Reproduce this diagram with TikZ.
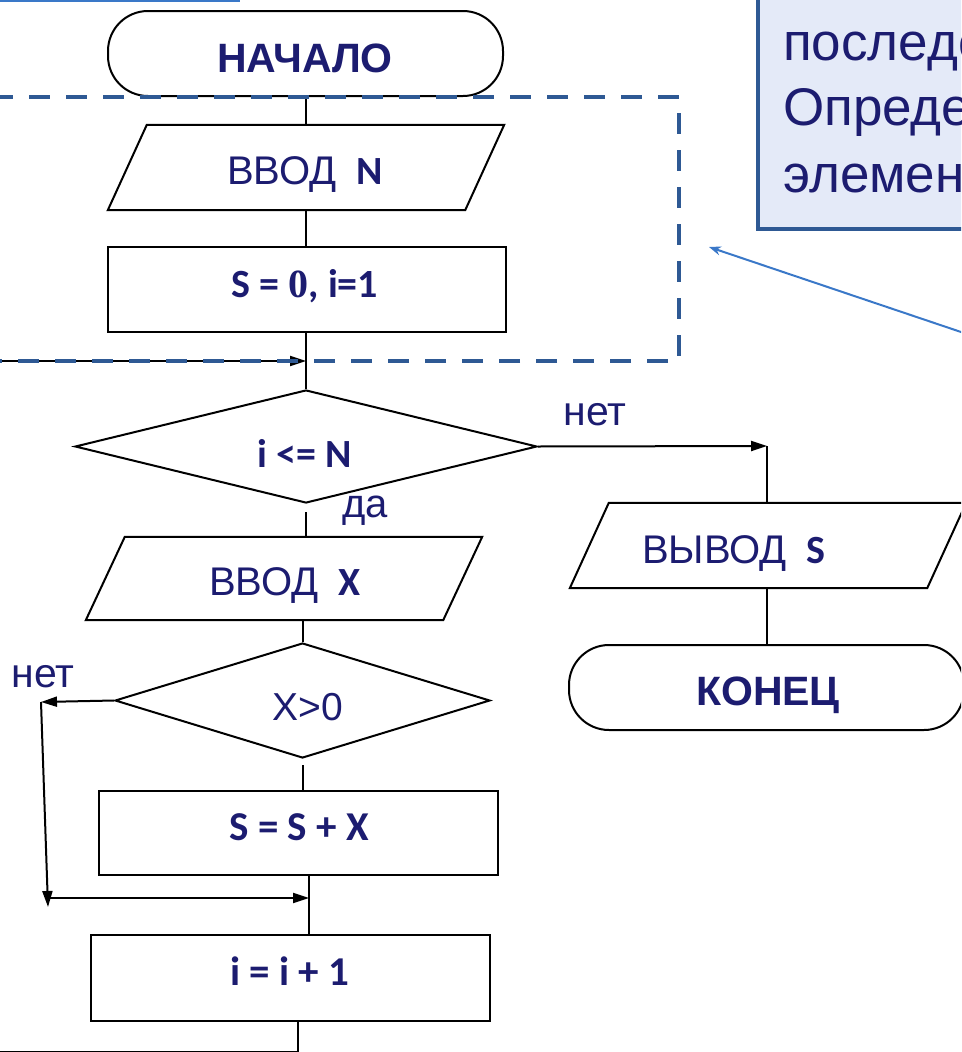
\documentclass[tikz,border=0pt]{standalone}
\usepackage{fontspec}
\setmainfont{Liberation Sans}
\newfontfamily\calfont{Carlito}
\newfontfamily\serfont{Liberation Serif}
\usetikzlibrary{shapes.geometric,arrows.meta,calc}

\definecolor{ink}{RGB}{28,28,112}
\definecolor{frameblue}{RGB}{46,89,148}
\definecolor{notefill}{RGB}{228,234,248}
\definecolor{pointer}{RGB}{58,120,200}

\tikzset{
  flow/.style={line width=2pt},
  arr/.style={flow, -{Triangle[length=16pt,width=10pt]}},
  proc/.style={draw, rectangle, line width=2pt, inner sep=0pt},
  term/.style={draw, rectangle, rounded corners=40pt, line width=2pt, inner sep=0pt},
  iobox/.style={rectangle, inner sep=0pt},
  decide/.style={draw, diamond, line width=2pt, inner sep=0pt},
  lbl/.style={inner sep=0pt, anchor=base, text=ink},
  notetext/.style={inner sep=0pt, anchor=base west, text=ink},
}

% slanted input/output block drawn over an invisible frame node
\newcommand\slantbox[1]{%
  \draw[flow, line join=miter] (#1.south west) -- ($(#1.north west)+(39,0)$)
    -- (#1.north east) -- ($(#1.south east)+(-39,0)$) -- cycle;}

\begin{document}
\begin{tikzpicture}[x=1pt, y=-1pt]
\useasboundingbox (0,0) rectangle (961,1052);
\clip (0,0) rectangle (961,1052);

% blocks
\node[term, minimum width=395pt, minimum height=85pt] (start) at (305.5,53.5) {};
\node[iobox, minimum width=396pt, minimum height=85pt] (inN) at (306,167.5) {};
\node[proc, minimum width=398pt, minimum height=85pt] (init) at (307,289.5) {};
\node[decide, minimum width=462pt, minimum height=113pt] (cond) at (306,446.5) {};
\node[iobox, minimum width=396pt, minimum height=83pt] (inX) at (284,578.5) {};
\node[decide, minimum width=375pt, minimum height=115pt] (pos) at (302.5,700.5) {};
\node[proc, minimum width=399pt, minimum height=84pt] (acc) at (298.5,833) {};
\node[proc, minimum width=399pt, minimum height=86pt] (inc) at (290.5,978) {};
\node[iobox, minimum width=396pt, minimum height=85pt] (outS) at (768,545.5) {};
\node[term, minimum width=395pt, minimum height=85pt] (stop) at (766.5,687.5) {};
\slantbox{inN}
\slantbox{inX}
\slantbox{outS}

% block texts
\node[lbl] (tStart) at (305,72) {\fontsize{41}{41}\selectfont\bfseries НАЧАЛО};
\node[lbl] (tInN) at (305,184) {\fontsize{40}{40}\selectfont ВВОД\hspace{20pt}{\calfont\bfseries N}};
\node[lbl] (tInit) at (305,297) {\calfont\bfseries\fontsize{40}{40}\selectfont S = {\serfont\bfseries 0}, i=1};
\node[lbl] (tCond) at (305,467) {\calfont\bfseries\fontsize{40}{40}\selectfont i <= N};
\node[lbl] (tYes) at (365,517) {\fontsize{40}{40}\selectfont да};
\node[lbl] (tInX) at (285,595) {\fontsize{40}{40}\selectfont ВВОД\hspace{20pt}{\calfont\bfseries X}};
\node[lbl] (tPos) at (308,720) {\fontsize{39}{39}\selectfont X>0};
\node[lbl] (tNoL) at (43,687) {\fontsize{41}{41}\selectfont нет};
\node[lbl] (tAcc) at (299,840) {\calfont\bfseries\fontsize{41}{41}\selectfont S = S + X};
\node[lbl] (tInc) at (290,985) {\calfont\bfseries\fontsize{41}{41}\selectfont i = i + 1};
\node[lbl] (tNoR) at (595,425) {\fontsize{41}{41}\selectfont нет};
\node[lbl] (tOut) at (734,563) {\fontsize{40}{40}\selectfont ВЫВОД\hspace{20pt}{\calfont\bfseries S}};
\node[lbl] (tStop) at (768,705) {\fontsize{41}{41}\selectfont\bfseries КОНЕЦ};

% helper points of the connectors
\coordinate (loopIn) at (-5,361);
\coordinate (exitTurn) at (767,446);
\coordinate (bypassTop) at (41,702);
\coordinate (bypassBot) at (48,907);
\coordinate (bypassTurn) at (48,898);
\coordinate (join) at (309,898);
\coordinate (back) at (298,1051.5);

% main line
\draw[flow] (start.south) -- (start.south |- inN.north);
\draw[flow] (inN.south) -- (inN.south |- init.north);
\draw[flow] (cond.north |- init.south) -- (cond.north);
\draw[arr] (loopIn) -- (loopIn -| cond.north);
\draw[flow, shorten <=8pt] (cond.south) -- (cond.south |- inX.north);
\draw[flow] (inX.south -| pos.north) -- (pos.north);
\draw[flow, shorten <=6pt] (pos.south) -- (pos.south |- acc.north);
\draw[flow] (join |- acc.south) -- (join |- inc.north);
\draw[flow] (back |- inc.south) -- (back) -- (back -| loopIn);

% "no" branch of X>0
\draw[arr] (pos.west) -- (bypassTop);
\draw[arr] (bypassTop) -- (bypassBot);
\draw[arr] (bypassTurn) -- (join);

% exit branch
\draw[arr] (cond.east) -- (exitTurn);
\draw[flow] (exitTurn) -- (exitTurn |- outS.north);
\draw[flow] (outS.south -| exitTurn) -- (stop.north -| exitTurn);

% dashed frame round the initialisation
\draw[frameblue, line width=4pt, dash pattern=on 21pt off 16pt, line join=round]
  (-8,97) -- (679,97) -- (679,361) -- (-8,361);

% task note
\draw[frameblue, fill=notefill, line width=4pt] (758,-20) rectangle (990,229);
\node[notetext] (note1) at (783,60) {\fontsize{53}{53}\selectfont последов};
\node[notetext] (note2) at (783,125) {\fontsize{53}{53}\selectfont Определ};
\node[notetext] (note3) at (783,192) {\fontsize{53}{53}\selectfont элемент};

% pointer to the frame
\coordinate (ptrFrom) at (964,333);
\coordinate (ptrTo) at (709,247);
\draw[pointer, line width=2pt, -{Stealth[length=12pt,width=9pt]}] (ptrFrom) -- (ptrTo);

% edge of a box above
\draw[pointer, line width=2.5pt] (-5,0.5) -- (240,0.5);
\end{tikzpicture}
\end{document}
